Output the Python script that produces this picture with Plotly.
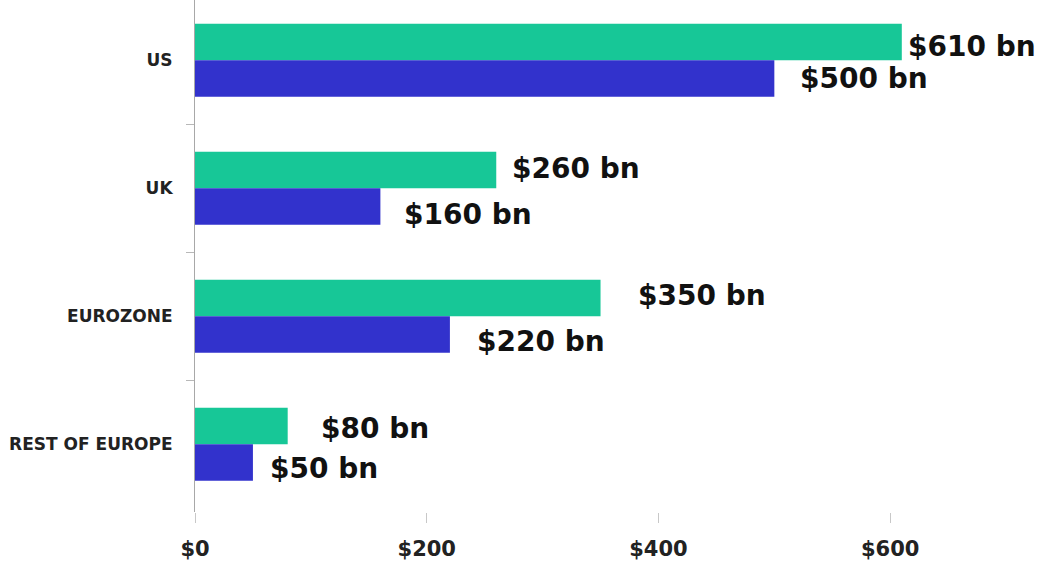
import plotly.graph_objects as go

# Regions, top to bottom
regions = ["US", "UK", "EUROZONE", "REST OF EUROPE"]

# Two series per region, in $ bn
series_a = [610, 260, 350, 80]
series_b = [500, 160, 220, 50]

TEAL = "#17c797"
BLUE = "#3232cc"

# Per-label pixel nudges for the value labels (dx right, dy down)
dx_a = [4, 14, 35, 31]
dx_b = [24, 22, 25, 15]
dy_a = [5, -1, -2, 3]
dy_b = [0, 8, 7, 6]

fig = go.Figure()
fig.add_trace(go.Bar(y=regions, x=series_a, orientation="h",
                     marker=dict(color=TEAL, line=dict(width=0)), showlegend=False))
fig.add_trace(go.Bar(y=regions, x=series_b, orientation="h",
                     marker=dict(color=BLUE, line=dict(width=0)), showlegend=False))

label_font = dict(family="DejaVu Sans", size=28, color="#111111", weight="bold")
n = len(regions)
group_half = 0.57 / 2
for i, r in enumerate(regions):
    for k, (vals, dx, dy) in enumerate(((series_a, dx_a, dy_a), (series_b, dx_b, dy_b))):
        offset = -group_half / 2 if k == 0 else group_half / 2
        fig.add_annotation(
            x=vals[i], y=i + offset, xref="x", yref="y",
            text=f"${vals[i]} bn", showarrow=False,
            xanchor="left", yanchor="middle",
            xshift=dx[i], yshift=-dy[i],
            font=label_font,
        )

fig.update_layout(
    width=1042, height=564,
    margin=dict(l=195, r=0, t=0, b=52),
    paper_bgcolor="white", plot_bgcolor="white",
    barmode="group", bargap=0.43, bargroupgap=0,
)
fig.update_xaxes(
    range=[0, 731], tick0=0, dtick=200, tickprefix="$",
    showgrid=False, zeroline=False, showline=False,
    ticks="outside", ticklen=10, tickcolor="#c8c8c8", tickwidth=1,
    tickfont=dict(family="DejaVu Sans", size=21, color="#222222", weight="bold"),
    ticklabelstandoff=8,
)
fig.update_yaxes(
    type="category", range=[n - 0.47, -0.47],
    showgrid=False, zeroline=False,
    showline=True, linecolor="#a8a8a8", linewidth=1,
    ticks="outside", tickson="boundaries", ticklen=8, tickcolor="#b8b8b8",
    tickfont=dict(family="DejaVu Sans", size=17, color="#222222", weight="bold"),
    ticklabelstandoff=18,
)

fig.write_html("out.html")
